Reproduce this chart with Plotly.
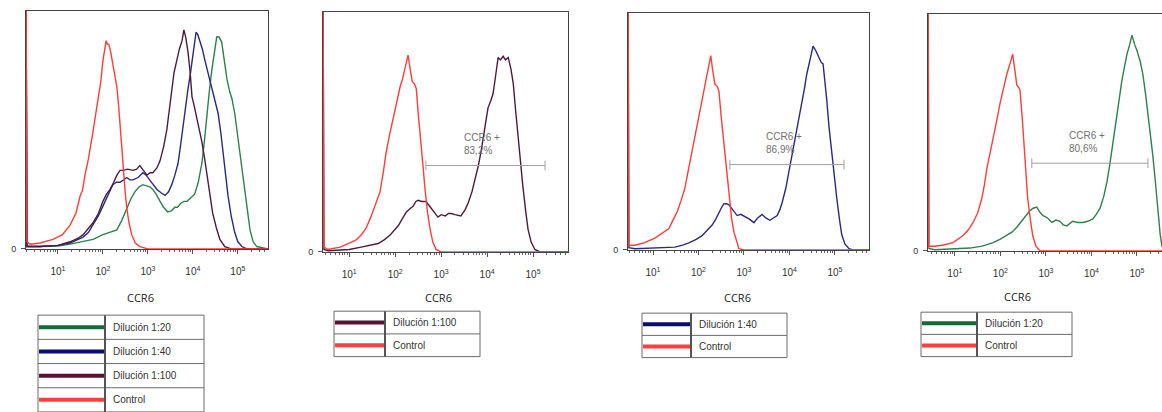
import plotly.graph_objects as go

W, H = 1162, 412

# CCR6 histograms: (log10 fluorescence, normalised event count)
P1_DIL20 = [(0.29, 1.2), (0.31, 0.01), (0.6, 0.01), (1.0, 0.012), (1.27, 0.02), (1.5, 0.03), (1.78, 0.04),
            (2.0, 0.06), (2.15, 0.07), (2.31, 0.08), (2.42, 0.12), (2.53, 0.17), (2.62, 0.21), (2.71, 0.24),
            (2.8, 0.26), (2.89, 0.27), (2.98, 0.265), (3.05, 0.26), (3.11, 0.25), (3.2, 0.225), (3.27, 0.2),
            (3.35, 0.175), (3.44, 0.155), (3.52, 0.16), (3.6, 0.175), (3.66, 0.175), (3.72, 0.19), (3.8, 0.2),
            (3.87, 0.2), (3.95, 0.215), (4.04, 0.23), (4.12, 0.28), (4.2, 0.36), (4.26, 0.46), (4.31, 0.57),
            (4.37, 0.67), (4.42, 0.75), (4.48, 0.83), (4.53, 0.89), (4.58, 0.89), (4.64, 0.87), (4.7, 0.79),
            (4.76, 0.71), (4.82, 0.66), (4.87, 0.63), (4.93, 0.57), (4.98, 0.5), (5.04, 0.42), (5.1, 0.33),
            (5.16, 0.25), (5.22, 0.16), (5.27, 0.08), (5.34, 0.03), (5.42, 0.01), (5.67, 0.0)]
P1_DIL40 = [(0.29, 1.2), (0.31, 0.01), (0.6, 0.01), (1.0, 0.015), (1.27, 0.025), (1.45, 0.04), (1.56, 0.05),
            (1.68, 0.07), (1.78, 0.1), (1.9, 0.14), (2.0, 0.18), (2.09, 0.22), (2.16, 0.25), (2.22, 0.27),
            (2.3, 0.28), (2.38, 0.28), (2.46, 0.29), (2.53, 0.3), (2.6, 0.29), (2.67, 0.29), (2.78, 0.3),
            (2.89, 0.32), (2.96, 0.31), (3.04, 0.29), (3.12, 0.27), (3.2, 0.25), (3.3, 0.235), (3.38, 0.225),
            (3.46, 0.24), (3.53, 0.27), (3.6, 0.31), (3.67, 0.36), (3.73, 0.44), (3.78, 0.52), (3.84, 0.6),
            (3.89, 0.67), (3.94, 0.73), (3.98, 0.79), (4.03, 0.86), (4.07, 0.91), (4.11, 0.9), (4.16, 0.87),
            (4.21, 0.84), (4.27, 0.79), (4.35, 0.73), (4.42, 0.68), (4.5, 0.62), (4.56, 0.57), (4.62, 0.49),
            (4.67, 0.4), (4.72, 0.31), (4.78, 0.225), (4.85, 0.14), (4.93, 0.07), (5.0, 0.03), (5.09, 0.01),
            (5.2, 0.0), (5.67, 0.0)]
P1_DIL100 = [(0.29, 1.2), (0.31, 0.01), (0.6, 0.01), (1.0, 0.015), (1.27, 0.03), (1.45, 0.045), (1.56, 0.06),
             (1.68, 0.085), (1.78, 0.11), (1.9, 0.15), (2.0, 0.2), (2.08, 0.23), (2.16, 0.25), (2.24, 0.28),
             (2.31, 0.31), (2.38, 0.33), (2.45, 0.33), (2.55, 0.335), (2.67, 0.33), (2.75, 0.335), (2.82, 0.35),
             (2.9, 0.33), (2.98, 0.31), (3.05, 0.32), (3.11, 0.32), (3.2, 0.34), (3.27, 0.37), (3.35, 0.43),
             (3.42, 0.5), (3.48, 0.59), (3.53, 0.68), (3.58, 0.74), (3.64, 0.79), (3.7, 0.84), (3.76, 0.875),
             (3.8, 0.92), (3.84, 0.89), (3.89, 0.83), (3.94, 0.74), (3.98, 0.64), (4.03, 0.6), (4.09, 0.55),
             (4.15, 0.5), (4.2, 0.45), (4.26, 0.38), (4.31, 0.31), (4.38, 0.23), (4.44, 0.15), (4.52, 0.09),
             (4.6, 0.04), (4.71, 0.01), (4.85, 0.0), (5.67, 0.0)]
P1_CONTROL = [(0.29, 1.2), (0.31, 0.03), (0.38, 0.02), (0.6, 0.025), (0.89, 0.04), (1.1, 0.06), (1.27, 0.1),
              (1.4, 0.15), (1.49, 0.22), (1.55, 0.25), (1.6, 0.31), (1.68, 0.38), (1.76, 0.47), (1.83, 0.55),
              (1.89, 0.62), (1.95, 0.7), (2.0, 0.79), (2.04, 0.84), (2.07, 0.875), (2.1, 0.86), (2.13, 0.86),
              (2.17, 0.83), (2.22, 0.77), (2.27, 0.72), (2.31, 0.68), (2.35, 0.6), (2.38, 0.52), (2.42, 0.42),
              (2.45, 0.33), (2.49, 0.25), (2.53, 0.17), (2.58, 0.11), (2.64, 0.06), (2.72, 0.025), (2.82, 0.01),
              (3.0, 0.0), (5.67, 0.0)]

P2_DIL100 = [(0.43, 1.2), (0.45, 0.01), (0.54, 0.005), (1.0, 0.01), (1.26, 0.02), (1.45, 0.028), (1.63, 0.035),
             (1.76, 0.05), (1.89, 0.07), (1.98, 0.09), (2.07, 0.11), (2.16, 0.14), (2.24, 0.165), (2.32, 0.18),
             (2.39, 0.19), (2.45, 0.21), (2.5, 0.215), (2.58, 0.21), (2.67, 0.21), (2.75, 0.19), (2.83, 0.17),
             (2.93, 0.145), (3.0, 0.155), (3.09, 0.15), (3.16, 0.16), (3.22, 0.16), (3.3, 0.155), (3.43, 0.15),
             (3.52, 0.175), (3.59, 0.205), (3.67, 0.25), (3.74, 0.3), (3.81, 0.36), (3.87, 0.42), (3.95, 0.52),
             (4.02, 0.6), (4.08, 0.63), (4.13, 0.66), (4.19, 0.74), (4.24, 0.81), (4.29, 0.8), (4.35, 0.815),
             (4.4, 0.8), (4.46, 0.81), (4.52, 0.76), (4.57, 0.7), (4.62, 0.59), (4.67, 0.48), (4.73, 0.37),
             (4.78, 0.27), (4.84, 0.17), (4.89, 0.095), (4.96, 0.04), (5.04, 0.01), (5.15, 0.0), (5.76, 0.0)]
P2_CONTROL = [(0.43, 1.2), (0.45, 0.02), (0.54, 0.01), (0.8, 0.02), (1.04, 0.04), (1.15, 0.05), (1.26, 0.07),
              (1.37, 0.1), (1.48, 0.15), (1.58, 0.2), (1.67, 0.25), (1.74, 0.33), (1.8, 0.41), (1.88, 0.49),
              (1.96, 0.56), (2.04, 0.63), (2.11, 0.69), (2.16, 0.72), (2.2, 0.75), (2.24, 0.79), (2.28, 0.82),
              (2.32, 0.77), (2.37, 0.71), (2.42, 0.7), (2.46, 0.68), (2.5, 0.58), (2.54, 0.48), (2.6, 0.37),
              (2.65, 0.26), (2.7, 0.17), (2.76, 0.095), (2.82, 0.04), (2.89, 0.01), (3.0, 0.0), (5.76, 0.0)]

P3_DIL40 = [(0.45, 1.2), (0.47, 0.01), (0.6, 0.005), (1.0, 0.008), (1.48, 0.012), (1.65, 0.02), (1.79, 0.03),
            (1.95, 0.045), (2.08, 0.06), (2.2, 0.085), (2.3, 0.105), (2.38, 0.13), (2.45, 0.16), (2.51, 0.18),
            (2.56, 0.195), (2.62, 0.195), (2.67, 0.19), (2.76, 0.165), (2.85, 0.145), (2.93, 0.15), (3.02, 0.14),
            (3.12, 0.13), (3.22, 0.115), (3.3, 0.135), (3.4, 0.15), (3.48, 0.135), (3.57, 0.125), (3.65, 0.135),
            (3.73, 0.145), (3.79, 0.17), (3.84, 0.2), (3.92, 0.26), (3.99, 0.33), (4.06, 0.4), (4.12, 0.47),
            (4.2, 0.54), (4.27, 0.61), (4.33, 0.68), (4.38, 0.74), (4.45, 0.8), (4.52, 0.86), (4.58, 0.84),
            (4.65, 0.81), (4.7, 0.79), (4.74, 0.785), (4.78, 0.72), (4.82, 0.635), (4.87, 0.52), (4.93, 0.41),
            (4.98, 0.31), (5.04, 0.22), (5.1, 0.13), (5.15, 0.065), (5.22, 0.025), (5.31, 0.005), (5.4, 0.0),
            (5.75, 0.0)]
P3_CONTROL = [(0.45, 1.2), (0.47, 0.02), (0.6, 0.02), (0.8, 0.03), (1.04, 0.05), (1.2, 0.07), (1.35, 0.09),
              (1.45, 0.13), (1.53, 0.16), (1.62, 0.21), (1.7, 0.26), (1.78, 0.34), (1.86, 0.42), (1.94, 0.49),
              (2.01, 0.56), (2.08, 0.63), (2.14, 0.69), (2.2, 0.75), (2.27, 0.82), (2.31, 0.76), (2.36, 0.7),
              (2.41, 0.69), (2.45, 0.67), (2.5, 0.56), (2.56, 0.44), (2.62, 0.32), (2.67, 0.22), (2.73, 0.13),
              (2.78, 0.075), (2.84, 0.03), (2.89, 0.005), (3.0, 0.0), (5.75, 0.0)]

P4_DIL20 = [(0.41, 1.2), (0.43, 0.01), (0.56, 0.005), (1.0, 0.008), (1.33, 0.012), (1.6, 0.02), (1.84, 0.035),
            (2.0, 0.05), (2.14, 0.065), (2.26, 0.08), (2.36, 0.1), (2.44, 0.12), (2.5, 0.135), (2.58, 0.155),
            (2.65, 0.17), (2.72, 0.18), (2.8, 0.185), (2.86, 0.165), (2.93, 0.15), (3.03, 0.14), (3.13, 0.12),
            (3.22, 0.13), (3.31, 0.125), (3.38, 0.11), (3.46, 0.105), (3.52, 0.115), (3.59, 0.125), (3.7, 0.12),
            (3.81, 0.12), (3.92, 0.125), (4.03, 0.135), (4.11, 0.155), (4.19, 0.18), (4.27, 0.23), (4.34, 0.29),
            (4.4, 0.36), (4.45, 0.43), (4.51, 0.5), (4.56, 0.58), (4.62, 0.65), (4.67, 0.72), (4.73, 0.78),
            (4.78, 0.83), (4.84, 0.87), (4.89, 0.91), (4.95, 0.87), (5.0, 0.845), (5.07, 0.8), (5.13, 0.745),
            (5.19, 0.66), (5.24, 0.58), (5.3, 0.49), (5.35, 0.4), (5.41, 0.28), (5.46, 0.16), (5.51, 0.07),
            (5.55, 0.02), (5.62, 0.0)]
P4_CONTROL = [(0.41, 1.2), (0.43, 0.02), (0.56, 0.02), (0.75, 0.025), (0.96, 0.035), (1.08, 0.05), (1.18, 0.065),
              (1.3, 0.09), (1.4, 0.12), (1.5, 0.16), (1.59, 0.22), (1.65, 0.28), (1.7, 0.345), (1.77, 0.41),
              (1.84, 0.47), (1.92, 0.55), (1.99, 0.62), (2.07, 0.69), (2.14, 0.745), (2.21, 0.79), (2.27, 0.83),
              (2.32, 0.76), (2.36, 0.7), (2.4, 0.69), (2.43, 0.68), (2.48, 0.56), (2.52, 0.44), (2.56, 0.33),
              (2.6, 0.22), (2.66, 0.13), (2.71, 0.065), (2.78, 0.02), (2.87, 0.0), (5.6, 0.0)]

# CCR6+ gates: (start log10, end log10, height) and percentage of positive cells
GATES = [None, (2.67, 5.26, 0.36), (2.69, 5.20, 0.36), (2.69, 5.24, 0.37)]
GATE_PCT = [None, 83.2, 86.9, 80.6]

DECADES = [1, 2, 3, 4, 5]
TICK_TEXT = ["10<sup>%d</sup>" % d for d in DECADES]

LINE_COLORS = {
    "Dilución 1:20": "#2f7f50",
    "Dilución 1:40": "#2a2a7c",
    "Dilución 1:100": "#4c1b3c",
    "Control": "#ff3d3d",
}
KEY_COLORS = {
    "Dilución 1:20": "#17693b",
    "Dilución 1:40": "#0c0c6c",
    "Dilución 1:100": "#5b1034",
    "Control": "#ff4040",
}

PANELS = [
    dict(series=[("Dilución 1:20", P1_DIL20), ("Dilución 1:40", P1_DIL40),
                 ("Dilución 1:100", P1_DIL100), ("Control", P1_CONTROL)],
         frame=(26, 268, 11, 252), xr=(0.29, 5.67), right_edge=True,
         title=(140, 301), legend=(38, 105, 204, 319, 24.5)),
    dict(series=[("Dilución 1:100", P2_DIL100), ("Control", P2_CONTROL)],
         frame=(323, 568, 12, 255), xr=(0.43, 5.76), right_edge=True,
         title=(438, 301), legend=(334, 385, 480, 315, 23.0)),
    dict(series=[("Dilución 1:40", P3_DIL40), ("Control", P3_CONTROL)],
         frame=(628, 869, 13, 253), xr=(0.45, 5.75), right_edge=True,
         title=(737, 301), legend=(642, 691, 787, 317, 22.5)),
    dict(series=[("Dilución 1:20", P4_DIL20), ("Control", P4_CONTROL)],
         frame=(928, 1162, 14, 254), xr=(0.41, 5.55), right_edge=False,
         title=(1017, 300), legend=(921, 977, 1072, 316, 22.5)),
]


def fx(px):
    return px / W


def fy(py):
    return 1 - py / H


MINOR_VALS = [m * 10 ** e for e in range(0, 6) for m in range(2, 10)]
FRAME = "#444444"
TXT = "#333333"

fig = go.Figure()
layout = dict(width=W, height=H, margin=dict(l=0, r=0, t=0, b=0),
              paper_bgcolor="white", plot_bgcolor="white", showlegend=False)
shapes, annotations = [], []

for i, panel in enumerate(PANELS):
    sfx = "" if i == 0 else str(i + 1)
    xa, ya = "x" + sfx, "y" + sfx
    left, right, top, bottom = panel["frame"]
    layout["xaxis" + sfx] = dict(
        type="log", domain=[fx(left), fx(right)], range=list(panel["xr"]), anchor=ya,
        showline=True, mirror=True, linecolor=FRAME, linewidth=1,
        showgrid=False, zeroline=False, ticks="outside", ticklen=4, tickcolor="#555",
        tickvals=[10 ** d for d in DECADES], ticktext=TICK_TEXT,
        tickfont=dict(family="Liberation Sans", size=10, color=TXT), ticklabelstandoff=9,
        minor=dict(tickvals=MINOR_VALS, ticks="outside", ticklen=2, tickcolor="#666", showgrid=False),
    )
    layout["yaxis" + sfx] = dict(
        domain=[fy(bottom), fy(top)], range=[0, 1], anchor=xa,
        showline=True, mirror=panel["right_edge"], linecolor=FRAME, linewidth=1,
        showgrid=False, zeroline=False, ticks="outside", ticklen=4, tickcolor="#555",
        tickvals=[0], ticktext=["0"],
        tickfont=dict(family="Liberation Sans", size=9, color=TXT), ticklabelstandoff=3,
    )

    for name, pts in panel["series"]:
        fig.add_trace(go.Scatter(
            x=[10 ** a for a, _ in pts], y=[b for _, b in pts], mode="lines", name=name,
            line=dict(color=LINE_COLORS[name], width=1.4), xaxis=xa, yaxis=ya,
            hoverinfo="skip"))

    gate = GATES[i]
    if gate is not None:
        g0, g1, gh = gate
        fig.add_trace(go.Scatter(
            x=[10 ** g0, 10 ** g1], y=[gh, gh], mode="lines+markers",
            line=dict(color="#a0a0a0", width=1),
            marker=dict(symbol="line-ns", size=7, line=dict(color="#a0a0a0", width=1)),
            xaxis=xa, yaxis=ya, hoverinfo="skip"))
        pct = ("%.1f%%" % GATE_PCT[i]).replace(".", ",")
        annotations.append(dict(
            xref=xa, yref=ya, x=g0 + 0.3 * (g1 - g0), y=gh + 0.03, xanchor="left", yanchor="bottom",
            text="CCR6 +<br>" + pct, align="left", showarrow=False,
            font=dict(family="Liberation Sans", size=10, color="#707070")))

    # axis title
    tx, ty = panel["title"]
    annotations.append(dict(xref="paper", yref="paper", x=fx(tx), y=fy(ty), text="CCR6",
                            showarrow=False, xanchor="center", yanchor="middle",
                            font=dict(family="Open Sans", size=11, color="#222")))

    # key table under each histogram
    l, s, r, t, rh = panel["legend"]
    names = [n for n, _ in panel["series"]]
    n = len(names)
    b = t + rh * n
    shapes.append(dict(type="rect", xref="paper", yref="paper", x0=fx(l), x1=fx(r), y0=fy(b), y1=fy(t),
                       line=dict(color="#6a6a6a", width=1), fillcolor="rgba(0,0,0,0)", layer="above"))
    for k in range(1, n):
        yk = t + rh * k
        shapes.append(dict(type="line", xref="paper", yref="paper", x0=fx(l), x1=fx(r), y0=fy(yk), y1=fy(yk),
                           line=dict(color="#6a6a6a", width=1)))
    for k, name in enumerate(names):
        yc = t + rh * (k + 0.5)
        shapes.append(dict(type="line", xref="paper", yref="paper", x0=fx(l + 1), x1=fx(s - 1),
                           y0=fy(yc), y1=fy(yc), line=dict(color=KEY_COLORS[name], width=4)))
        annotations.append(dict(xref="paper", yref="paper", x=fx(s + 6), y=fy(yc), text=name,
                                showarrow=False, xanchor="left", yanchor="middle",
                                font=dict(family="Liberation Sans", size=10, color="#333")))
    shapes.append(dict(type="line", xref="paper", yref="paper", x0=fx(s), x1=fx(s), y0=fy(b), y1=fy(t),
                       line=dict(color="#555", width=2)))

layout["shapes"] = shapes
layout["annotations"] = annotations
fig.update_layout(**layout)
fig.write_html("out.html")
